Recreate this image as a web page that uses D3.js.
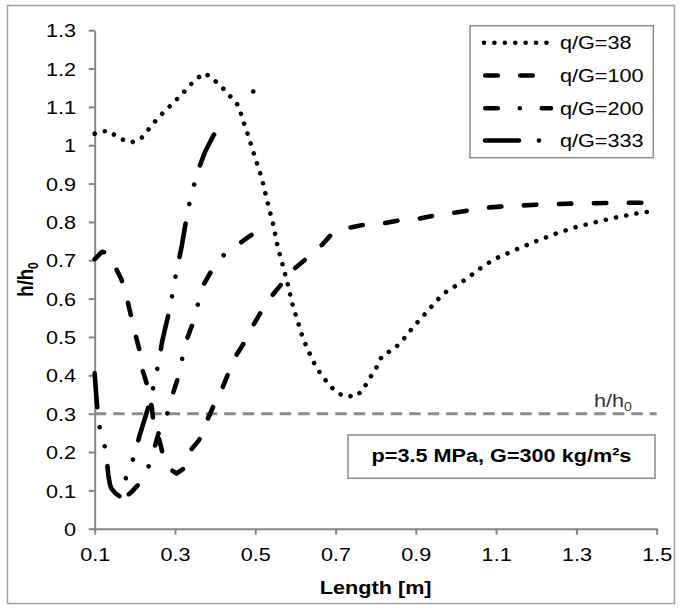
<!DOCTYPE html>
<html>
<head>
<meta charset="utf-8">
<script src="https://cdn.jsdelivr.net/npm/d3@7"></script>
<style>
  html, body { margin: 0; padding: 0; background: #fff; }
  svg { display: block; font-family: Arial, "Liberation Sans", sans-serif; }
</style>
</head>
<body>
<svg id="chart" width="680" height="610"></svg>
<script>
// ---- data -------------------------------------------------------------
const xTicks = [0.1, 0.3, 0.5, 0.7, 0.9, 1.1, 1.3, 1.5];
const yTicks = [0, 0.1, 0.2, 0.3, 0.4, 0.5, 0.6, 0.7, 0.8, 0.9, 1, 1.1, 1.2, 1.3];
const yTickLabels = ["0", "0.1", "0.2", "0.3", "0.4", "0.5", "0.6", "0.7", "0.8", "0.9", "1", "1.1", "1.2", "1.3"];
const xTickLabels = ["0.1", "0.3", "0.5", "0.7", "0.9", "1.1", "1.3", "1.5"];

const seriesNames = ["q/G=38", "q/G=100", "q/G=200", "q/G=333"];

const len38 = [0.1, 0.112, 0.134, 0.156, 0.169, 0.191, 0.214, 0.231, 0.247, 0.264, 0.283, 0.301, 0.318, 0.336,
  0.354, 0.375, 0.391, 0.41, 0.428, 0.445, 0.455, 0.461, 0.467, 0.476, 0.484, 0.492, 0.5, 0.508, 0.516, 0.522,
  0.528, 0.534, 0.541, 0.547, 0.552, 0.557, 0.565, 0.571, 0.578, 0.584, 0.59, 0.596, 0.605, 0.611, 0.62, 0.629,
  0.64, 0.651, 0.666, 0.681, 0.699, 0.719, 0.736, 0.746, 0.754, 0.765, 0.772, 0.782, 0.79, 0.801, 0.809, 0.823,
  0.844, 0.858, 0.876, 0.892, 0.909, 0.926, 0.944, 0.961, 0.978, 0.999, 1.021, 1.042, 1.062, 1.084, 1.106,
  1.15, 1.2, 1.25, 1.3, 1.35, 1.4, 1.45, 1.5];
const h38 = [1.03, 1.034, 1.038, 1.022, 1.015, 1.007, 1.016, 1.037, 1.058, 1.078, 1.097, 1.116, 1.134, 1.155,
  1.174, 1.188, 1.175, 1.159, 1.139, 1.119, 1.107, 1.096, 1.071, 1.046, 1.02, 0.993, 0.967, 0.941, 0.915, 0.889,
  0.862, 0.836, 0.809, 0.783, 0.755, 0.729, 0.702, 0.676, 0.65, 0.624, 0.596, 0.571, 0.546, 0.52, 0.495, 0.471,
  0.447, 0.422, 0.4, 0.379, 0.359, 0.346, 0.346, 0.343, 0.35, 0.357, 0.37, 0.386, 0.401, 0.418, 0.44, 0.457,
  0.466, 0.482, 0.502, 0.524, 0.544, 0.564, 0.585, 0.605, 0.62, 0.633, 0.648, 0.664, 0.68, 0.695, 0.708,
  0.728, 0.75, 0.77, 0.787, 0.8, 0.812, 0.822, 0.83];
// single isolated reading of the q/G=38 run
const len38Extra = [0.495];
const h38Extra = [1.14];

const len100 = [0.1, 0.118, 0.13, 0.148, 0.167, 0.18, 0.19, 0.2, 0.211, 0.218, 0.23, 0.242, 0.246, 0.256, 0.269,
  0.291, 0.304, 0.322, 0.333, 0.36, 0.377, 0.395, 0.416, 0.433, 0.45, 0.473, 0.494, 0.516, 0.541, 0.57, 0.595,
  0.628, 0.666, 0.69, 0.71, 0.734, 0.778, 0.823, 0.863, 0.909, 0.952, 0.996, 1.039, 1.085, 1.11, 1.2, 1.3, 1.4, 1.5];
const h100 = [0.703, 0.722, 0.72, 0.689, 0.649, 0.602, 0.557, 0.512, 0.468, 0.418, 0.377, 0.318, 0.283, 0.253, 0.197,
  0.153, 0.144, 0.157, 0.197, 0.231, 0.275, 0.318, 0.362, 0.405, 0.448, 0.486, 0.529, 0.568, 0.607, 0.644, 0.676,
  0.705, 0.74, 0.768, 0.779, 0.785, 0.794, 0.797, 0.805, 0.809, 0.818, 0.824, 0.831, 0.838, 0.84, 0.845, 0.848, 0.85, 0.85];

const len200 = [0.185, 0.192, 0.213, 0.236, 0.25, 0.262, 0.283, 0.296, 0.309, 0.319, 0.331, 0.346, 0.358, 0.372,
  0.394, 0.425, 0.465, 0.5];
const h200 = [0.09, 0.096, 0.12, 0.166, 0.215, 0.26, 0.305, 0.356, 0.398, 0.449, 0.498, 0.54, 0.589, 0.638,
  0.678, 0.718, 0.747, 0.773];

const len333 = [0.1, 0.104, 0.109, 0.115, 0.123, 0.13, 0.134, 0.138, 0.142, 0.152, 0.163, 0.172, 0.18, 0.199,
  0.211, 0.236, 0.249, 0.26, 0.268, 0.289, 0.297, 0.307, 0.317, 0.332, 0.344, 0.358, 0.375, 0.395, 0.422];
const h333 = [0.405, 0.345, 0.285, 0.245, 0.228, 0.179, 0.14, 0.115, 0.104, 0.092, 0.084, 0.105, 0.143, 0.19,
  0.24, 0.325, 0.383, 0.437, 0.488, 0.583, 0.634, 0.687, 0.738, 0.831, 0.884, 0.936, 0.983, 1.024, 1.067];

// reference level h/h0 = 0.3
const refLen = [0.1, 1.5];
const refH = [0.3, 0.3];
const refLabel = "h/h";

const noteText = "p=3.5 MPa, G=300 kg/m²s";

// ---- layout ------------------------------------------------------------
const W = 680, H = 610;
const plot = { left: 94.7, right: 656.7, top: 30.2, bottom: 528.7 };
const SX = 1.17;            // horizontal stretch of all lettering
const FS = 18.5;            // base font size
const axisColor = "#868686";

const svg = d3.select("#chart");

// chart frame
svg.append("rect")
  .attr("x", 7.5).attr("y", 5.5).attr("width", 667).attr("height", 598)
  .attr("fill", "#fff").attr("stroke", "#a0a0a0").attr("stroke-width", 1.5);

const x = d3.scaleLinear().domain([0.1, 1.5]).range([plot.left, plot.right]);
const y = d3.scaleLinear().domain([0, 1.3]).range([plot.bottom, plot.top]);

// ---- axes ---------------------------------------------------------------
const gy = svg.append("g").attr("transform", `translate(${plot.left},0)`)
  .call(d3.axisLeft(y).tickValues(yTicks).tickSize(6).tickSizeOuter(0).tickPadding(10)
    .tickFormat((d, i) => yTickLabels[i]));
const gx = svg.append("g").attr("transform", `translate(0,${plot.bottom})`)
  .call(d3.axisBottom(x).tickValues(xTicks).tickSize(6).tickSizeOuter(0).tickPadding(13)
    .tickFormat((d, i) => xTickLabels[i]));

[gx, gy].forEach(g => {
  g.select(".domain").attr("stroke", axisColor).attr("stroke-width", 2);
  g.selectAll(".tick line").attr("stroke", axisColor).attr("stroke-width", 2);
  g.selectAll(".tick text")
    .attr("fill", "#000").attr("font-size", FS)
    .attr("font-family", "Arial, 'Liberation Sans', sans-serif");
});
gy.selectAll(".tick text").attr("dy", "0.36em").attr("x", -16).attr("transform", `scale(${SX},1)`);
gx.selectAll(".tick text").attr("dy", "0.71em").attr("transform", `scale(${SX},1)`);

// axis titles
const yTitle = svg.append("text")
  .attr("transform", `translate(33,${(plot.top + plot.bottom) / 2}) scale(${SX},1) rotate(-90)`)
  .attr("text-anchor", "middle").attr("font-size", FS).attr("font-weight", "bold").attr("fill", "#000");
yTitle.append("tspan").text("h/h");
yTitle.append("tspan").attr("font-size", 12).attr("dy", 4).text("0");

svg.append("text")
  .attr("transform", `translate(${(plot.left + plot.right) / 2},594) scale(${SX},1)`)
  .attr("text-anchor", "middle").attr("font-size", FS).attr("font-weight", "bold").attr("fill", "#000")
  .text("Length [m]");

// ---- reference line ----------------------------------------------------------
const line = d3.line().x(d => x(d[0])).y(d => y(d[1]));
svg.append("path")
  .attr("d", line(d3.zip(refLen, refH)))
  .attr("fill", "none").attr("stroke", "#8c8c8c").attr("stroke-width", 3)
  .attr("stroke-dasharray", "11.5,7");

const refT = svg.append("text")
  .attr("transform", `translate(594,407) scale(${SX},1)`)
  .attr("font-size", FS).attr("fill", "#333");
refT.append("tspan").text(refLabel);
refT.append("tspan").attr("font-size", 12).attr("dy", 4).text("0");

// ---- series -----------------------------------------------------------
const dashes = ["0.01,10.4", "12.5,22.5", "12.5,22,0.01,22", "34,20,0.01,20,0.01,20"];
const seriesData = [
  d3.zip(len38, h38),
  d3.zip(len100, h100),
  d3.zip(len200, h200),
  d3.zip(len333, h333)
];

svg.append("g").selectAll("path")
  .data(seriesData)
  .join("path")
  .attr("d", d => line(d))
  .attr("fill", "none").attr("stroke", "#000").attr("stroke-width", 4.6)
  .attr("stroke-linecap", "round").attr("stroke-linejoin", "round")
  .attr("stroke-dasharray", (d, i) => dashes[i]);

svg.append("g").selectAll("circle")
  .data(d3.zip(len38Extra, h38Extra))
  .join("circle")
  .attr("cx", d => x(d[0])).attr("cy", d => y(d[1])).attr("r", 2.3).attr("fill", "#000");

// ---- legend -----------------------------------------------------------
const legend = svg.append("g");
legend.append("rect")
  .attr("x", 470).attr("y", 25.7).attr("width", 183.3).attr("height", 132)
  .attr("fill", "#fff").attr("stroke", "#8a8a8a").attr("stroke-width", 1.5);
const sampleEnds = [[484, 548], [485.25, 548], [485.25, 551], [485, 551]];
const rowY = [42.7, 75.5, 108.3, 140.5];
seriesNames.forEach((name, i) => {
  legend.append("line")
    .attr("x1", sampleEnds[i][0]).attr("x2", sampleEnds[i][1])
    .attr("y1", rowY[i]).attr("y2", rowY[i])
    .attr("stroke", "#000").attr("stroke-width", 4.6)
    .attr("stroke-linecap", "round").attr("stroke-dasharray", dashes[i]);
  legend.append("text")
    .attr("transform", `translate(560,${rowY[i] + 6.6}) scale(${SX},1)`)
    .attr("font-size", FS).attr("fill", "#000").text(name);
});

// ---- condition note ---------------------------------------------------------
svg.append("rect")
  .attr("x", 348).attr("y", 435).attr("width", 307).attr("height", 43.3)
  .attr("fill", "#fff").attr("stroke", "#8a8a8a").attr("stroke-width", 1.5);
svg.append("text")
  .attr("transform", `translate(501.5,461.7) scale(${SX},1)`)
  .attr("text-anchor", "middle").attr("font-size", FS).attr("font-weight", "bold").attr("fill", "#000")
  .text(noteText);
</script>
</body>
</html>
